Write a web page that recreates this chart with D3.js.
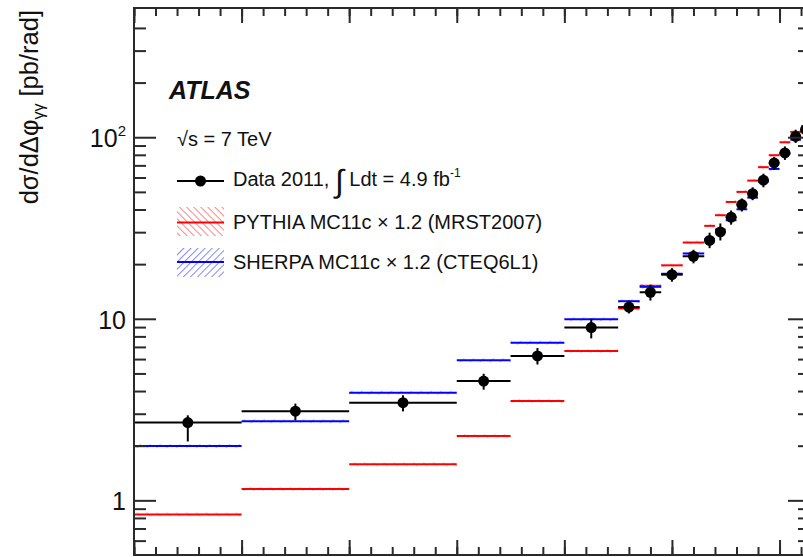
<!DOCTYPE html>
<html>
<head>
<meta charset="utf-8">
<script src="https://cdn.jsdelivr.net/npm/d3@7"></script>
<style>
	body { margin: 0; background: #fff; }
	svg { display: block; font-family: "Liberation Sans", Arial, Helvetica, sans-serif; }
</style>
</head>
<body>
<svg id="chart" width="803" height="557"></svg>
<script>
// Bin edges in delta phi (rad)
const binEdges = [0, 0.5, 1.0, 1.5, 1.75, 2.0, 2.25, 2.35, 2.45, 2.55, 2.65,
	2.7, 2.75, 2.8, 2.85, 2.9, 2.95, 3.0, 3.05, 3.1, Math.PI];

// Measured cross section and error bar ends [pb/rad]
const dataValues = [2.68, 3.10, 3.45, 4.54, 6.24, 8.94, 11.6, 14.0, 17.5, 22.1,
	27.0, 30.1, 36.3, 42.6, 48.9, 58.0, 72.2, 81.9, 101, 110];
const dataErrUp = [2.94, 3.41, 3.79, 4.98, 6.9, 10.0, 12.6, 15.4, 19.0, 24.0,
	29.8, 33.5, 39.5, 46, 53, 63, 78, 89, 110, 120];
const dataErrDown = [2.11, 2.76, 3.09, 4.07, 5.6, 7.8, 10.7, 12.6, 16.0, 20.2,
	24.5, 27.0, 33, 39, 45, 53, 66, 75, 93, 100];

// MC predictions (x 1.2)
const pythiaValues = [0.837, 1.154, 1.58, 2.26, 3.52, 6.65, 11.4, 15.2, 19.7, 26.3,
	32.5, 37.2, 44.0, 50.0, 57.7, 68.4, 79.6, 93.8, 107, 115];
const sherpaValues = [1.99, 2.73, 3.92, 5.91, 7.39, 9.94, 12.5, 15.0, 17.7, 22.9,
	27.5, 31.0, 34.9, 40.1, 46.5, 57, 66.9, 81, 97.1, 108];

// Axis ticks
const yMajorTicks = [1, 10, 100];
const yTickLabels = [["1", ""], ["10", ""], ["10", "2"]];
const xMajorTicks = [0, 0.5, 1.0, 1.5, 2.0, 2.5, 3.0];
const xMinorTicks = d3.range(0, 32).map((i) => i / 10);

const svg = d3.select("#chart");
const frame = { left: 134, top: 8, right: 810, bottom: 555 };

const x = d3.scaleLinear().domain([0, Math.PI]).range([frame.left, frame.right]);
const y = d3.scaleLog().domain([0.5, 515]).range([frame.bottom, frame.top]);

const bins = binEdges.slice(0, -1).map((lo, i) => ({
	lo: lo,
	hi: binEdges[i + 1],
	data: dataValues[i],
	up: dataErrUp[i],
	down: dataErrDown[i],
	pythia: pythiaValues[i],
	sherpa: sherpaValues[i],
}));

// Hatch patterns for the MC bands
const defs = svg.append("defs");
function addHatch(id, color, angle, size) {
	defs
		.append("pattern")
		.attr("id", id)
		.attr("patternUnits", "userSpaceOnUse")
		.attr("width", size)
		.attr("height", size)
		.attr("patternTransform", `rotate(${angle})`)
		.append("line")
		.attr("x1", 0)
		.attr("y1", 0)
		.attr("x2", 0)
		.attr("y2", size)
		.attr("stroke", color)
		.attr("stroke-width", 1.5);
}
addHatch("hatch-red", "#f26060", -45, 5);
addHatch("hatch-blue", "#6060f2", 45, 5);
addHatch("band-red", "#f7a0a0", -45, 7);
addHatch("band-blue", "#a0a0f7", 45, 7);

const series = [
	{ key: "pythia", color: "#ff0000", hatch: "hatch-red", band: "band-red" },
	{ key: "sherpa", color: "#0000ff", hatch: "hatch-blue", band: "band-blue" },
];

const plot = svg.append("g");

// MC bands and central lines
for (const s of series) {
	plot
		.append("g")
		.selectAll("rect")
		.data(bins)
		.join("rect")
		.attr("x", (d) => x(d.lo))
		.attr("width", (d) => x(d.hi) - x(d.lo))
		.attr("y", (d) => y(d[s.key] * 1.025))
		.attr("height", (d) => y(d[s.key] * 0.975) - y(d[s.key] * 1.025))
		.attr("fill", `url(#${s.band})`);

	plot
		.append("g")
		.selectAll("line")
		.data(bins)
		.join("line")
		.attr("x1", (d) => x(d.lo))
		.attr("x2", (d) => x(d.hi))
		.attr("y1", (d) => y(d[s.key]))
		.attr("y2", (d) => y(d[s.key]))
		.attr("stroke", s.color)
		.attr("stroke-width", 2);
}

// Data: horizontal bin width, vertical error bar, marker
const dataG = plot.append("g").attr("stroke", "#000").attr("stroke-width", 2);
dataG
	.selectAll("line.xerr")
	.data(bins)
	.join("line")
	.attr("class", "xerr")
	.attr("x1", (d) => x(d.lo))
	.attr("x2", (d) => x(d.hi))
	.attr("y1", (d) => y(d.data))
	.attr("y2", (d) => y(d.data));
dataG
	.selectAll("line.yerr")
	.data(bins)
	.join("line")
	.attr("class", "yerr")
	.attr("x1", (d) => x((d.lo + d.hi) / 2))
	.attr("x2", (d) => x((d.lo + d.hi) / 2))
	.attr("y1", (d) => y(d.up))
	.attr("y2", (d) => y(d.down));
plot
	.append("g")
	.selectAll("circle")
	.data(bins)
	.join("circle")
	.attr("cx", (d) => x((d.lo + d.hi) / 2))
	.attr("cy", (d) => y(d.data))
	.attr("r", 5.5)
	.attr("fill", "#000");

// Frame and ticks
const yMinorTicks = y
	.ticks()
	.filter((v) => Math.abs(Math.log10(v) - Math.round(Math.log10(v))) > 1e-6)
	.filter((v) => v > 0.5 && v < 500);

function styleAxis(g) {
	g.select(".domain").remove();
	g.selectAll(".tick line").attr("stroke", "#2a2a2a").attr("stroke-width", 2);
}

const axes = [
	{ axis: d3.axisRight(y), t: `translate(${frame.left},0)`, major: yMajorTicks, minor: yMinorTicks, big: 22, small: 12 },
	{ axis: d3.axisLeft(y), t: `translate(${frame.right},0)`, major: yMajorTicks, minor: yMinorTicks, big: 22, small: 12 },
	{ axis: d3.axisBottom(x), t: `translate(0,${frame.top})`, major: xMajorTicks, minor: xMinorTicks, big: 15, small: 8 },
	{ axis: d3.axisTop(x), t: `translate(0,${frame.bottom})`, major: xMajorTicks, minor: xMinorTicks, big: 15, small: 8 },
];
for (const a of axes) {
	svg.append("g").attr("transform", a.t)
		.call(a.axis.tickValues(a.minor).tickSize(a.small).tickFormat(""))
		.call(styleAxis);
	svg.append("g").attr("transform", a.t)
		.call(a.axis.tickValues(a.major).tickSize(a.big).tickFormat(""))
		.call(styleAxis);
}

svg
	.append("rect")
	.attr("x", frame.left)
	.attr("y", frame.top)
	.attr("width", frame.right - frame.left)
	.attr("height", frame.bottom - frame.top)
	.attr("fill", "none")
	.attr("stroke", "#2a2a2a")
	.attr("stroke-width", 2);

// Y tick labels
const yLabels = svg
	.append("g")
	.selectAll("text")
	.data(yMajorTicks)
	.join("text")
	.attr("x", 126)
	.attr("y", (d) => y(d) + 10)
	.attr("text-anchor", "end")
	.attr("font-size", 25)
	.attr("fill", "#111");
yLabels.append("tspan").text((d, i) => yTickLabels[i][0]);
yLabels
	.append("tspan")
	.attr("font-size", 15)
	.attr("dy", -11)
	.text((d, i) => yTickLabels[i][1]);

// Y axis title
const yTitle = svg
	.append("text")
	.attr("transform", "translate(38,10) rotate(-90)")
	.attr("text-anchor", "end")
	.attr("font-size", 25.5)
	.attr("fill", "#111");
yTitle.append("tspan").text("dσ/dΔφ");
yTitle.append("tspan").attr("font-size", 16).attr("dy", 6).text("γγ");
yTitle.append("tspan").attr("dy", -6).text(" [pb/rad]");

// Labels and legend
svg
	.append("text")
	.attr("x", 169)
	.attr("y", 99)
	.attr("font-size", 25)
	.attr("font-weight", "bold")
	.attr("font-style", "italic")
	.attr("fill", "#111")
	.text("ATLAS");

svg
	.append("text")
	.attr("x", 177)
	.attr("y", 146)
	.attr("font-size", 20)
	.attr("fill", "#111")
	.text("√s = 7 TeV");

const legend = svg.append("g").attr("font-size", 20).attr("fill", "#111");

legend.append("line")
	.attr("x1", 177).attr("x2", 224).attr("y1", 181).attr("y2", 181)
	.attr("stroke", "#000").attr("stroke-width", 2);
legend.append("circle").attr("cx", 200.5).attr("cy", 181).attr("r", 5.5).attr("fill", "#000");
const dataLabel = legend.append("text").attr("x", 233).attr("y", 186);
dataLabel.append("tspan").text("Data 2011, ");
dataLabel.append("tspan").attr("font-size", 32).attr("dy", 6).text("∫");
dataLabel.append("tspan").attr("dy", -6).text(" Ldt = 4.9 fb");
dataLabel.append("tspan").attr("font-size", 12).attr("dy", -9).text("-1");

const mcLegend = [
	{ s: series[0], label: "PYTHIA MC11c × 1.2 (MRST2007)", top: 207, line: 222.5, base: 229 },
	{ s: series[1], label: "SHERPA MC11c × 1.2 (CTEQ6L1)", top: 248, line: 262, base: 269 },
];
for (const m of mcLegend) {
	legend.append("rect")
		.attr("x", 177).attr("y", m.top).attr("width", 47).attr("height", 29)
		.attr("fill", `url(#${m.s.hatch})`);
	legend.append("line")
		.attr("x1", 177).attr("x2", 224).attr("y1", m.line).attr("y2", m.line)
		.attr("stroke", m.s.color).attr("stroke-width", 2);
	legend.append("text").attr("x", 233).attr("y", m.base).text(m.label);
}
</script>
</body>
</html>
